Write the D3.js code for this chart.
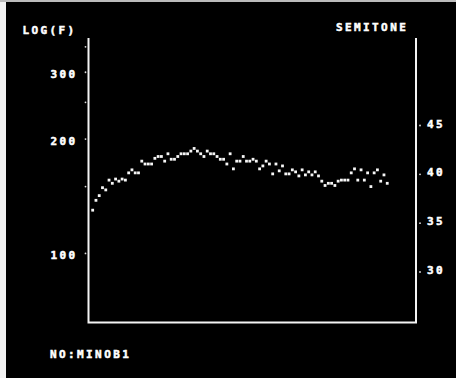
<!DOCTYPE html>
<html>
<head>
<meta charset="utf-8">
<script src="https://cdn.jsdelivr.net/npm/d3@7"></script>
<style>
  body { margin: 0; background: #000; }
</style>
</head>
<body>
<div class="container"></div>
<script>
const WIDTH = 456;
const HEIGHT = 378;
const FRAME = { left: 88.5, right: 416, top: 38, bottom: 322.5 };
const FONT = "'DejaVu Sans Mono', monospace";

// データ (フレーム番号と基本周波数 Hz)
const frames = d3.range(1, 92);
const pitch = [
  130, 138, 142, 149, 147, 156, 153, 157, 155, 157,
  156, 163, 166, 163, 163, 175, 172, 172, 172, 178,
  180, 180, 175, 183, 177, 177, 180, 183, 183, 183,
  186, 189, 186, 183, 180, 186, 183, 183, 180, 177,
  177, 172, 183, 167, 175, 175, 180, 175, 175, 177,
  175, 167, 170, 175, 172, 162, 172, 165, 170, 162,
  162, 166, 164, 160, 166, 161, 164, 161, 164, 160,
  155, 151, 153, 153, 151, 155, 156, 156, 156, 163,
  167, 156, 166, 156, 163, 150, 163, 166, 155, 161,
  153
];
const freqTicks = [100, 200, 300];
const freqMinorTicks = [150, 250, 350];
const semitoneTicks = [30, 35, 40, 45];

const svg = d3.select(".container")
  .append("svg")
  .attr("xmlns", "http://www.w3.org/2000/svg")
  .attr("width", WIDTH)
  .attr("height", HEIGHT)
  .attr("viewBox", `0 0 ${WIDTH} ${HEIGHT}`);

// 背景 (写真の白い縁)
svg.append("rect")
  .attr("width", WIDTH).attr("height", HEIGHT)
  .attr("fill", "#000");
svg.append("rect")
  .attr("x", 0).attr("y", 0).attr("width", 6).attr("height", HEIGHT)
  .attr("fill", "#f2f2f2");
svg.append("rect")
  .attr("x", 0).attr("y", 0).attr("width", WIDTH).attr("height", 2)
  .attr("fill", "#bbb");

// スケール
const x = d3.scaleLinear()
  .domain([0, 100])
  .range([89.4, 416.7]);

const y = d3.scaleLog()
  .domain([65.8, 369.2])
  .range([FRAME.bottom, FRAME.top]);

const semitone = d3.scaleLinear()
  .domain([30, 45])
  .range([270, 123.5]);

// 文字の共通スタイル (太いドット文字風)
const styleText = (sel) => sel
  .attr("fill", "#fff")
  .attr("stroke", "#fff")
  .attr("stroke-width", 0.5)
  .attr("font-family", FONT)
  .attr("font-weight", "bold")
  .attr("font-size", "11px")
  .attr("letter-spacing", "2.4px");

// 枠線 (左・下・右)
svg.append("path")
  .attr("d", `M${FRAME.left},${FRAME.top} V${FRAME.bottom} H${FRAME.right} V${FRAME.top}`)
  .attr("fill", "none")
  .attr("stroke", "#f4f4f4")
  .attr("stroke-width", 2);

// 左軸 LOG(F)
const yAxis = svg.append("g")
  .attr("class", "y-axis")
  .attr("transform", `translate(${FRAME.left - 11}, 2)`)
  .call(d3.axisLeft(y)
    .tickValues(freqTicks)
    .tickFormat(d3.format("d"))
    .tickSize(0)
    .tickPadding(0));
yAxis.select(".domain").remove();
yAxis.selectAll("text").call(styleText);

svg.append("g")
  .selectAll("circle")
  .data(freqTicks.concat(freqMinorTicks))
  .enter()
  .append("circle")
  .attr("cx", FRAME.left - 3)
  .attr("cy", d => y(d))
  .attr("r", 0.9)
  .attr("fill", "#ddd");

// 右軸 SEMITONE
const sAxis = svg.append("g")
  .attr("class", "s-axis")
  .attr("transform", `translate(${FRAME.right + 11}, 0)`)
  .call(d3.axisRight(semitone)
    .tickValues(semitoneTicks)
    .tickSize(0)
    .tickPadding(0));
sAxis.select(".domain").remove();
sAxis.selectAll("text").call(styleText);

svg.append("g")
  .selectAll("circle")
  .data(semitoneTicks)
  .enter()
  .append("circle")
  .attr("cx", FRAME.right + 4)
  .attr("cy", d => semitone(d) + 2)
  .attr("r", 0.9)
  .attr("fill", "#ddd");

// タイトル
const label = (tx, ty, str) => svg.append("text")
  .attr("x", tx)
  .attr("y", ty)
  .call(styleText)
  .text(str);
label(22.5, 33.5, "LOG(F)");
label(336, 31, "SEMITONE");
label(50, 358, "NO:MINOB1");

// 点
svg.append("g")
  .selectAll("rect")
  .data(frames)
  .enter()
  .append("rect")
  .attr("x", (d) => x(d) - 1.4)
  .attr("y", (d, i) => y(pitch[i]) - 1.4)
  .attr("width", 2.8)
  .attr("height", 2.8)
  .attr("fill", "#f6f6f6");
</script>
</body>
</html>
